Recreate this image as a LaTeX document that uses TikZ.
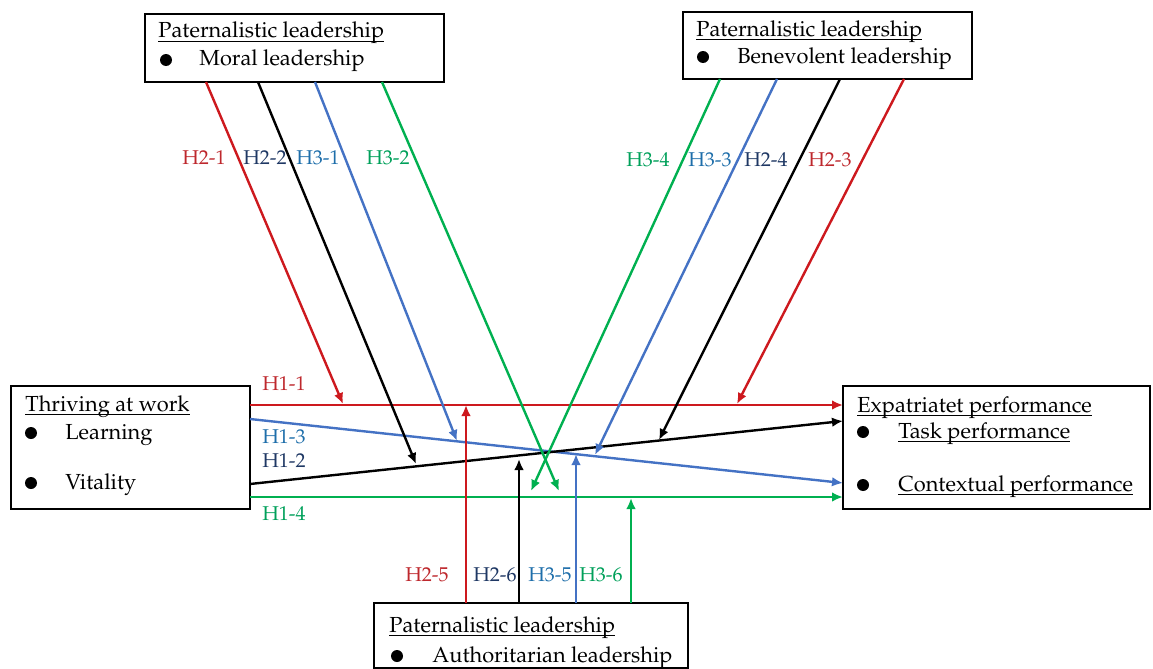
\documentclass[tikz,border=0pt]{standalone}
\usepackage[T1]{fontenc}
\usepackage{mathpazo}
\usetikzlibrary{arrows.meta,calc}
\definecolor{lred}{RGB}{205,25,30}
\definecolor{lblue}{RGB}{68,114,196}
\definecolor{lgreen}{RGB}{0,176,80}
\definecolor{tred}{RGB}{190,40,45}
\definecolor{tnavy}{RGB}{31,56,100}
\definecolor{tblue}{RGB}{30,110,170}
\definecolor{tgreen}{RGB}{0,160,90}
\newcommand\myul[1]{\setbox0\hbox{#1}\rlap{\rule[-2.1pt]{\wd0}{0.5pt}}\box0}
\begin{document}
\begin{tikzpicture}[x=0.5pt,y=-0.5pt,
  box/.style={draw,line width=0.6pt,inner sep=0pt,outer sep=0pt,anchor=north west},
  txt/.style={inner sep=0pt,anchor=base west,font=\fontsize{10.9}{13}\selectfont},
  dot/.style={circle,fill,inner sep=0pt,minimum size=6pt},
  lab/.style={inner sep=0pt,font=\fontsize{10}{12}\selectfont},
  arr/.style={line width=1.2pt,-{Latex[length=5.5pt,width=4.8pt]}}]
\useasboundingbox (0,0) rectangle (1153,669);

% boxes
\node[box,minimum width=149.5pt,minimum height=34pt] (ml) at (145,14) {};
\node[box,minimum width=144.5pt,minimum height=33.5pt] (bl) at (683,12) {};
\node[box,minimum width=157pt,minimum height=32.5pt] (al) at (374,603) {};
\node[box,minimum width=119.5pt,minimum height=61.5pt] (tw) at (11,386) {};
\node[box,minimum width=153.5pt,minimum height=61.5pt] (ep) at (843,386) {};

% box texts
\node[txt] (mlt) at (158,38) {\myul{Paternalistic leadership}};
\node[dot] (mld) at (166,60) {};
\node[txt] (mli) at (199,65) {Moral leadership};

\node[txt] (blt) at (696,36) {\myul{Paternalistic leadership}};
\node[dot] (bld) at (703,57) {};
\node[txt] (bli) at (737,63) {Benevolent leadership};

\node[txt] (alt) at (389,632) {\myul{Paternalistic leadership}};
\node[dot] (ald) at (397,656) {};
\node[txt] (ali) at (432,662) {Authoritarian leadership};

\node[txt] (twt) at (25,411) {\myul{Thriving at work}};
\node[dot] (twd1) at (31,433) {};
\node[txt] (twi1) at (65,439) {Learning};
\node[dot] (twd2) at (31,483) {};
\node[txt] (twi2) at (65,489) {Vitality};

\node[txt] (ept) at (857,412) {\myul{Expatriatet performance}};
\node[dot] (epd1) at (863,432) {};
\node[txt] (epi1) at (898,438) {\myul{Task performance}};
\node[dot] (epd2) at (863,485) {};
\node[txt] (epi2) at (898,491) {\myul{Contextual performance}};

% H1 connectors
\draw[arr,lred]   ($(tw.north east)+(0,19)$) -- ($(ep.north west)+(0,19)$);
\draw[arr,lblue]  ($(tw.north east)+(0,33)$) -- ($(ep.north west)+(0,97)$);
\draw[arr,black]  ($(tw.north east)+(0,98)$) -- ($(ep.north west)+(0,35)$);
\draw[arr,lgreen] ($(tw.north east)+(0,111)$) -- ($(ep.north west)+(0,111)$);

% end points on H1 lines
\coordinate (e21) at (343,404);
\coordinate (e22) at (416,464);
\coordinate (e31) at (457,441);
\coordinate (e32) at (559,491);
\coordinate (e34) at (531,491);
\coordinate (e33) at (595,455);
\coordinate (e24) at (659,440);
\coordinate (e23) at (737,404);
\coordinate (e25) at (466,405);
\coordinate (e26) at (519,459);
\coordinate (e35) at (576,454);
\coordinate (e36) at (631,498);

% moral leadership
\draw[arr,lred]   ($(ml.south west)+(61,0)$) -- (e21);
\draw[arr,black]  ($(ml.south west)+(113,0)$) -- (e22);
\draw[arr,lblue]  ($(ml.south west)+(170,0)$) -- (e31);
\draw[arr,lgreen] ($(ml.south west)+(237,0)$) -- (e32);

% benevolent leadership
\draw[arr,lgreen] ($(bl.south west)+(37,0)$) -- (e34);
\draw[arr,lblue]  ($(bl.south west)+(94,0)$) -- (e33);
\draw[arr,black]  ($(bl.south west)+(157,0)$) -- (e24);
\draw[arr,lred]   ($(bl.south west)+(221,0)$) -- (e23);

% authoritarian leadership
\draw[arr,lred]   ($(al.north west)+(92,0)$) -- (e25);
\draw[arr,black]  ($(al.north west)+(145,0)$) -- (e26);
\draw[arr,lblue]  ($(al.north west)+(202,0)$) -- (e35);
\draw[arr,lgreen] ($(al.north west)+(257,0)$) -- (e36);

% labels
\node[lab,text=tred]   (l21) at (204,158) {H2-1};
\node[lab,text=tnavy]  (l22) at (265,158) {H2-2};
\node[lab,text=tblue]  (l31) at (318,158) {H3-1};
\node[lab,text=tgreen] (l32) at (388,158) {H3-2};

\node[lab,text=tgreen] (l34) at (648,160) {H3-4};
\node[lab,text=tblue]  (l33) at (710,160) {H3-3};
\node[lab,text=tnavy]  (l24) at (766,160) {H2-4};
\node[lab,text=tred]   (l23) at (830,160) {H2-3};

\node[lab,text=tred]   (l25) at (427,575) {H2-5};
\node[lab,text=tnavy]  (l26) at (495,575) {H2-6};
\node[lab,text=tblue]  (l35) at (550,575) {H3-5};
\node[lab,text=tgreen] (l36) at (601,575) {H3-6};

\node[lab,text=tred]   (l11) at (284,384) {H1-1};
\node[lab,text=tblue]  (l13) at (284,437) {H1-3};
\node[lab,text=tnavy]  (l12) at (284,461) {H1-2};
\node[lab,text=tgreen] (l14) at (284,514) {H1-4};
\end{tikzpicture}
\end{document}
